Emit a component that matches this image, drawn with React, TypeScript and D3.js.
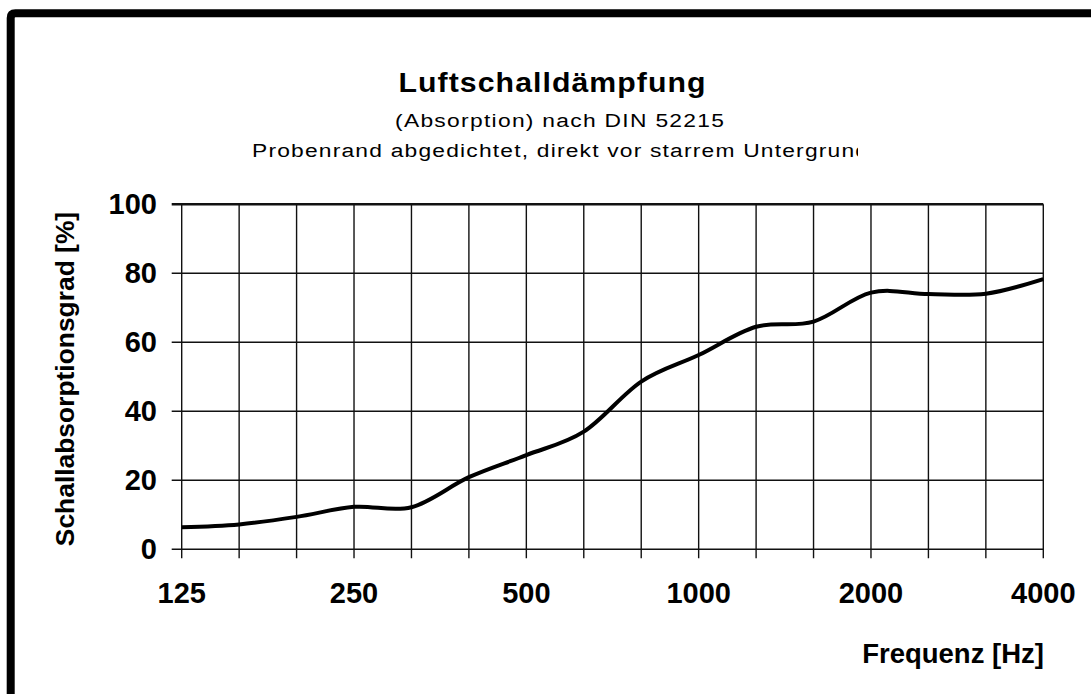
import React, { useEffect, useRef } from "react";
import * as d3 from "d3";

// third-octave bands, 125 Hz .. 4000 Hz
const bands = ["125", "160", "200", "250", "315", "400", "500", "630", "800", "1000", "1250", "1600", "2000", "2500", "3150", "4000"];
const absorption = [6.4, 7.2, 9.4, 12.3, 12.2, 20.9, 27.3, 34.1, 48.6, 56.3, 64.5, 66.0, 74.4, 74.0, 74.1, 78.3];
const labeledBands = ["125", "250", "500", "1000", "2000", "4000"];
const yTicks = [0, 20, 40, 60, 80, 100];

const title = "Luftschalldämpfung";
const subtitle1 = "(Absorption) nach DIN 52215";
const subtitle2 = "Probenrand abgedichtet, direkt vor starrem Untergrund";

const FONT = "'Liberation Sans', Arial, Helvetica, sans-serif";

const App = () => {
  const svgRef = useRef<SVGSVGElement>(null);

  useEffect(() => {
    const width = 1091;
    const height = 694;
    const left = 181.7;
    const right = 1043.3;
    const top = 204.3;
    const bottom = 549.3;

    const svg = d3.select(svgRef.current).attr("width", width).attr("height", height);
    svg.selectAll("*").remove();

    svg.append("rect").attr("width", width).attr("height", height).attr("fill", "#fff");

    // frame (top + left, rounded corner)
    svg.append("path")
      .attr("d", "M10.7,700 V18 Q10.7,13.3 15.4,13.3 H1100")
      .attr("fill", "none")
      .attr("stroke", "#000")
      .attr("stroke-width", 8);

    const x = d3.scalePoint<string>().domain(bands).range([left, right]);
    const y = d3.scaleLinear().domain([0, 100]).range([bottom, top]);

    const g = svg.append("g");

    // horizontal grid + y ticks
    g.selectAll(".hgrid")
      .data(yTicks)
      .enter()
      .append("line")
      .attr("x1", left - 10)
      .attr("x2", right)
      .attr("y1", d => y(d))
      .attr("y2", d => y(d))
      .attr("stroke", "#111")
      .attr("stroke-width", d => (d === 100 ? 2.6 : 1.4));

    // vertical grid + x ticks
    g.selectAll(".vgrid")
      .data(bands)
      .enter()
      .append("line")
      .attr("x1", d => x(d)!)
      .attr("x2", d => x(d)!)
      .attr("y1", top)
      .attr("y2", bottom + 9)
      .attr("stroke", "#111")
      .attr("stroke-width", 1.4);

    // y tick labels
    g.selectAll(".ylab")
      .data(yTicks)
      .enter()
      .append("text")
      .attr("x", 157)
      .attr("y", d => y(d) + 10)
      .attr("text-anchor", "end")
      .attr("font-family", FONT)
      .attr("font-weight", "bold")
      .attr("font-size", 29)
      .attr("fill", "#000")
      .text(d => d);

    // x tick labels
    g.selectAll(".xlab")
      .data(labeledBands)
      .enter()
      .append("text")
      .attr("x", d => x(d)!)
      .attr("y", 603.3)
      .attr("text-anchor", "middle")
      .attr("font-family", FONT)
      .attr("font-weight", "bold")
      .attr("font-size", 29)
      .attr("fill", "#000")
      .text(d => d);

    // curve (smoothed like the original spreadsheet line)
    const line = d3.line<number>()
      .x((_, i) => x(bands[i])!)
      .y(d => y(d))
      .curve(d3.curveCardinal.tension(0));

    g.append("path")
      .datum(absorption)
      .attr("fill", "none")
      .attr("stroke", "#000")
      .attr("stroke-width", 4)
      .attr("stroke-linejoin", "round")
      .attr("d", line);

    // axis titles
    svg.append("text")
      .attr("transform", "translate(74,379) rotate(-90)")
      .attr("text-anchor", "middle")
      .attr("font-family", FONT)
      .attr("font-weight", "bold")
      .attr("font-size", 26.4)
      .attr("fill", "#000")
      .text("Schallabsorptionsgrad [%]");

    svg.append("text")
      .attr("x", 1044)
      .attr("y", 663.3)
      .attr("text-anchor", "end")
      .attr("font-family", FONT)
      .attr("font-weight", "bold")
      .attr("font-size", 27.5)
      .attr("fill", "#000")
      .text("Frequenz [Hz]");

    // titles: the source text is drawn a bit wide, so stretch horizontally
    const stretched = (
      parent: d3.Selection<any, unknown, null, undefined>,
      text: string, x0: number, y0: number, w: number, sx: number, size: number, weight: string
    ) =>
      parent.append("text")
        .attr("transform", `translate(${x0},${y0}) scale(${sx},1)`)
        .attr("textLength", w / sx)
        .attr("lengthAdjust", "spacing")
        .attr("font-family", FONT)
        .attr("font-weight", weight)
        .attr("font-size", size)
        .attr("fill", "#000")
        .text(text);

    stretched(svg, title, 398.5, 91.7, 307, 1.08, 28, "bold");
    stretched(svg, subtitle1, 395, 126.7, 329, 1.2, 19, "normal");

    // last subtitle line is cut off at the right in the original
    svg.append("defs")
      .append("clipPath")
      .attr("id", "subclip")
      .append("rect")
      .attr("x", 0)
      .attr("y", 100)
      .attr("width", 858)
      .attr("height", 80);

    const clipped = svg.append("g").attr("clip-path", "url(#subclip)");
    stretched(clipped, subtitle2, 252, 156.7, 616, 1.2, 19, "normal");
  }, []);

  return (
    <svg ref={svgRef} style={{ position: "absolute", left: 0, top: 0, display: "block" }}></svg>
  );
};

export default App;
